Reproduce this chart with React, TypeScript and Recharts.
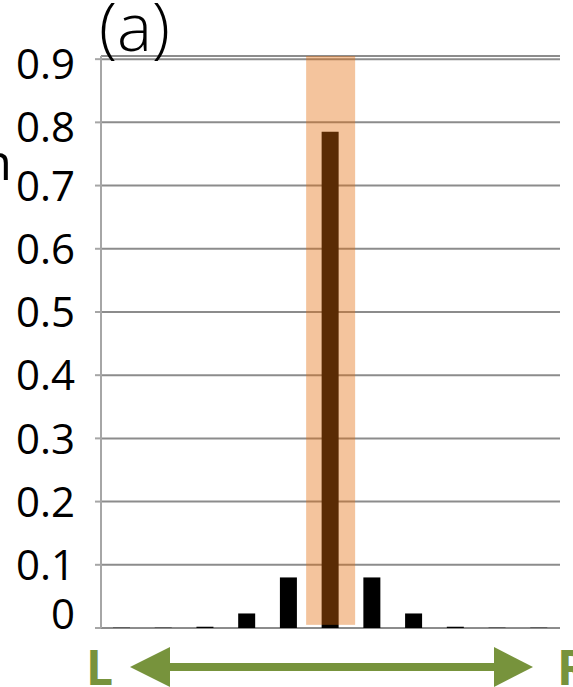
import React from "react";
import { BarChart, Bar, XAxis, YAxis, CartesianGrid } from "recharts";

// positions along the L-R axis
const positions = ["-5", "-4", "-3", "-2", "-1", "0", "1", "2", "3", "4", "5"];
const probability = [0.0005, 0.0005, 0.002, 0.023, 0.08, 0.785, 0.08, 0.023, 0.002, 0.0005, 0.0005];
// highlighted window (low, high) around the centre position
const highlightLow = [null, null, null, null, null, 0.005, null, null, null, null, null];
const highlightHigh = [null, null, null, null, null, 0.905, null, null, null, null, null];
const yTicks = [0, 0.1, 0.2, 0.3, 0.4, 0.5, 0.6, 0.7, 0.8, 0.9];

const data = positions.map((p, i) => ({
  pos: p,
  prob: probability[i],
  hl: highlightLow[i] == null ? null : [highlightLow[i], highlightHigh[i]],
}));

const FONT = "'Open Sans', sans-serif";
const GREEN = "#77933C";
const HL_WIDTH = 49;

const YTick = (props: any) => {
  const { x, y, payload } = props;
  const v = payload.value;
  const dy = v === 0 ? -14 : v >= 0.8 ? 5 : 0;
  return (
    <text x={x} y={y + dy} dy="0.36em" textAnchor="end" fontSize={42} fontFamily={FONT} fill="#000">
      {v === 0 ? "0" : v.toFixed(1)}
    </text>
  );
};

// wider than the category band, so draw it centred on the band
const HighlightShape = (props: any) => {
  const { x, y, width, height } = props;
  if (!height) return null;
  const cx = x + width / 2;
  return <rect x={cx - HL_WIDTH / 2} y={y} width={HL_WIDTH} height={height} fill="#E46C0A" fillOpacity={0.4} />;
};

const App: React.FC = () => {
  return (
    <div style={{ position: "absolute", left: 0, top: 0, width: 573, height: 687, background: "#fff", overflow: "hidden" }}>
      <BarChart
        width={573}
        height={687}
        data={data}
        margin={{ top: 56, right: 13, bottom: 59, left: 0 }}
      >
        <CartesianGrid vertical={false} stroke="#8c8c8c" strokeWidth={2} />
        <XAxis dataKey="pos" hide />
        <XAxis dataKey="pos" xAxisId="hl" hide />
        <YAxis
          domain={[0, 0.9]}
          ticks={yTicks}
          width={101}
          interval={0}
          axisLine={{ stroke: "#a6a6a6", strokeWidth: 2 }}
          tickLine={{ stroke: "#a6a6a6", strokeWidth: 2 }}
          tickSize={6}
          tickMargin={20}
          tick={<YTick />}
        />
        <Bar dataKey="prob" fill="#000" barSize={17} isAnimationActive={false} />
        <Bar dataKey="hl" xAxisId="hl" barSize={30} shape={<HighlightShape />} isAnimationActive={false} />
      </BarChart>
      <svg width={573} height={687} style={{ position: "absolute", left: 0, top: 0, pointerEvents: "none" }}>
        <text x={99} y={51} fontSize={66} fontFamily={FONT} fontWeight={300} fill="#000">(a)</text>
        <text x={12} y={180} textAnchor="end" fontSize={50} fontFamily={FONT} fill="#000">Fraction</text>
        <text x={86} y={685} fontSize={48} fontWeight="bold" fontFamily={FONT} fill={GREEN}>L</text>
        <text x={557} y={685} fontSize={48} fontWeight="bold" fontFamily={FONT} fill={GREEN}>R</text>
        <rect x={168} y={663} width={329} height={8} fill={GREEN} />
        <polygon points="130,667 170,647 170,687" fill={GREEN} />
        <polygon points="533,667 494,647 494,687" fill={GREEN} />
      </svg>
    </div>
  );
};

export default App;
